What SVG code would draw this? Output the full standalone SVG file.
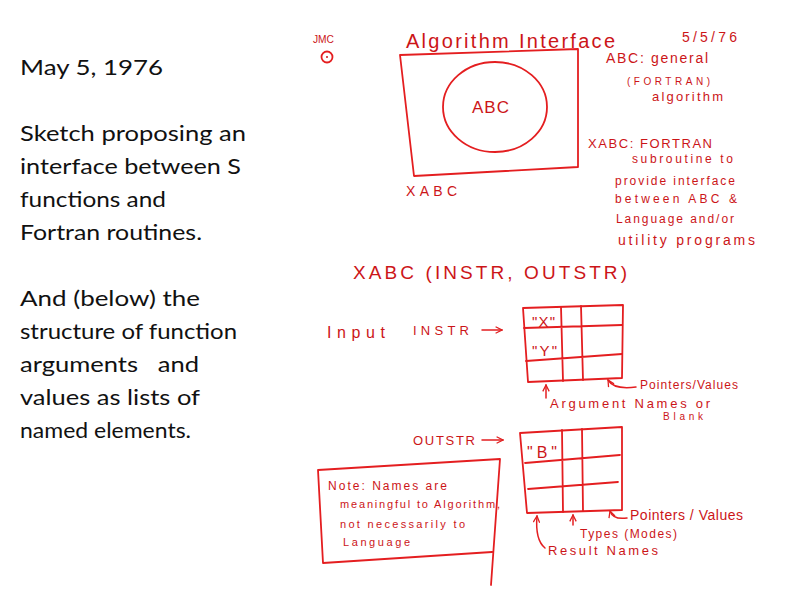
<svg xmlns="http://www.w3.org/2000/svg" width="804" height="595" viewBox="0 0 804 595">
  <defs>
    <marker id="chev" viewBox="0 0 10 10" refX="9" refY="5" markerWidth="8" markerHeight="8" orient="auto" markerUnits="userSpaceOnUse">
      <path d="M1,1 L9,5 L1,9" fill="none" stroke="#e01f1f" stroke-width="1.6"/>
    </marker>
  </defs>
  <style>
    .cap { font-family: Lato, "Liberation Sans", sans-serif; font-size: 22px; fill: #111; }
    .ink { font-family: "Liberation Sans", Arial, sans-serif; fill: #cc1518; }
    .line { fill: none; stroke: #e41e20; stroke-width: 1.8; stroke-linecap: round; stroke-linejoin: round; }
    .conn { fill: none; stroke: #e41e20; stroke-width: 1.5; stroke-linecap: round; }
  </style>
  <rect width="804" height="595" fill="#ffffff"/>

  <!-- caption column -->
  <g id="caption">
    <text class="cap" x="20" y="75" textLength="143" lengthAdjust="spacingAndGlyphs">May 5, 1976</text>
    <text class="cap" x="20" y="141" textLength="226" lengthAdjust="spacingAndGlyphs">Sketch proposing an</text>
    <text class="cap" x="20" y="174" textLength="221" lengthAdjust="spacingAndGlyphs">interface between S</text>
    <text class="cap" x="20" y="207" textLength="146" lengthAdjust="spacingAndGlyphs">functions and</text>
    <text class="cap" x="20" y="240" textLength="182" lengthAdjust="spacingAndGlyphs">Fortran routines.</text>
    <text class="cap" x="20" y="306" textLength="180" lengthAdjust="spacingAndGlyphs">And (below) the</text>
    <text class="cap" x="20" y="339" textLength="217" lengthAdjust="spacingAndGlyphs">structure of function</text>
    <text class="cap" x="20" y="372" textLength="179" lengthAdjust="spacingAndGlyphs" xml:space="preserve">arguments   and</text>
    <text class="cap" x="20" y="405" textLength="180" lengthAdjust="spacingAndGlyphs">values as lists of</text>
    <text class="cap" x="20" y="438" textLength="171" lengthAdjust="spacingAndGlyphs">named elements.</text>
  </g>

  <!-- header: initials, title, date -->
  <g id="header">
    <text class="ink" x="313" y="43" font-size="10" textLength="21" lengthAdjust="spacingAndGlyphs">JMC</text>
    <circle class="line" cx="327" cy="57" r="5.5" stroke-width="1.4"/>
    <circle cx="327" cy="57" r="1" fill="#cc1518"/>
    <text class="ink" x="406" y="48" font-size="20" textLength="209" lengthAdjust="spacing">Algorithm Interface</text>
    <text class="ink" x="682" y="42" font-size="14" textLength="55" lengthAdjust="spacing">5/5/76</text>
  </g>

  <!-- XABC wrapper box around ABC -->
  <g id="xabc-box">
    <path class="line" d="M400,55 L578,49 L578,167 L414,176 Z"/>
    <text class="ink" x="406" y="196" font-size="14" textLength="51" lengthAdjust="spacing">XABC</text>
  </g>
  <g id="abc">
    <ellipse class="line" cx="495" cy="107" rx="52" ry="45"/>
    <text class="ink" x="472" y="113" font-size="17" textLength="37" lengthAdjust="spacing">ABC</text>
  </g>

  <!-- definitions -->
  <g id="defs-text">
    <text class="ink" x="606" y="63" font-size="14" textLength="102" lengthAdjust="spacing">ABC: general</text>
    <text class="ink" x="627" y="85" font-size="10" textLength="83" lengthAdjust="spacing">(FORTRAN)</text>
    <text class="ink" x="652" y="101" font-size="13" textLength="71" lengthAdjust="spacing">algorithm</text>
    <text class="ink" x="588" y="148" font-size="13" textLength="124" lengthAdjust="spacing">XABC:  FORTRAN</text>
    <text class="ink" x="632" y="163" font-size="12" textLength="101" lengthAdjust="spacing">subroutine to</text>
    <text class="ink" x="615" y="185" font-size="12" textLength="120" lengthAdjust="spacing">provide interface</text>
    <text class="ink" x="615" y="203" font-size="12" textLength="122" lengthAdjust="spacing">between ABC &amp;</text>
    <text class="ink" x="616" y="223" font-size="12" textLength="118" lengthAdjust="spacing">Language and/or</text>
    <text class="ink" x="618" y="245" font-size="14" textLength="137" lengthAdjust="spacing">utility programs</text>
  </g>

  <!-- call signature -->
  <g id="signature">
    <text class="ink" x="353" y="279" font-size="19" textLength="274" lengthAdjust="spacing">XABC (INSTR, OUTSTR)</text>
  </g>

  <!-- INSTR list -->
  <g id="instr">
    <text class="ink" x="327" y="338" font-size="16" textLength="58" lengthAdjust="spacing">Input</text>
    <text class="ink" x="413" y="335" font-size="13" textLength="56" lengthAdjust="spacing">INSTR</text>
    <path class="line" d="M523,308 L623,305 L622,378 L528,382 Z"/>
    <path class="line" d="M561,307 L563,381 M581,306 L583,380 M524,328 L622,325 M526,361 L622,354"/>
    <text class="ink" x="532" y="327" font-size="15" textLength="23" lengthAdjust="spacing">"X"</text>
    <text class="ink" x="532" y="356" font-size="15" textLength="25" lengthAdjust="spacing">"Y"</text>
    <text class="ink" x="550" y="408" font-size="13" textLength="160" lengthAdjust="spacing">Argument Names or</text>
    <text class="ink" x="663" y="420" font-size="10" textLength="40" lengthAdjust="spacing">Blank</text>
    <text class="ink" x="640" y="389" font-size="12" textLength="98" lengthAdjust="spacing">Pointers/Values</text>
  </g>

  <!-- OUTSTR list -->
  <g id="outstr">
    <text class="ink" x="413" y="445" font-size="13" textLength="62" lengthAdjust="spacing">OUTSTR</text>
    <path class="line" d="M520,433 L622,427 L622,510 L527,513 Z"/>
    <path class="line" d="M562,430 L563,512 M582,429 L583,511 M525,463 L620,455 M528,489 L618,482"/>
    <text class="ink" x="527" y="458" font-size="16" textLength="30" lengthAdjust="spacing">"B"</text>
    <text class="ink" x="548" y="555" font-size="13" textLength="110" lengthAdjust="spacing">Result Names</text>
    <text class="ink" x="580" y="538" font-size="12" textLength="97" lengthAdjust="spacing">Types (Modes)</text>
    <text class="ink" x="630" y="520" font-size="14" textLength="113" lengthAdjust="spacing">Pointers / Values</text>
  </g>

  <!-- note box -->
  <g id="note">
    <path class="line" d="M318,470 L500,459 L491,585 M323,563 L318,470 M323,563 L492,552" stroke-width="1.5"/>
    <text class="ink" x="328" y="490" font-size="12" textLength="119" lengthAdjust="spacing">Note: Names are</text>
    <text class="ink" x="340" y="508" font-size="11" textLength="160" lengthAdjust="spacing">meaningful to Algorithm,</text>
    <text class="ink" x="340" y="528" font-size="11" textLength="125" lengthAdjust="spacing">not necessarily to</text>
    <text class="ink" x="343" y="546" font-size="11" textLength="67" lengthAdjust="spacing">Language</text>
  </g>

  <!-- connectors -->
  <g id="connectors">
    <path class="conn" d="M482,330 L502,330" marker-end="url(#chev)"/>
    <path class="conn" d="M482,440 L503,440" marker-end="url(#chev)"/>
    <path class="conn" d="M546,398 L546,385" marker-end="url(#chev)"/>
    <path class="conn" d="M636,387 Q614,390 608,380" marker-end="url(#chev)"/>
    <path class="conn" d="M545,548 Q535,540 537,516" marker-end="url(#chev)"/>
    <path class="conn" d="M573,525 L573,515" marker-end="url(#chev)"/>
    <path class="conn" d="M627,518 Q613,520 610,511" marker-end="url(#chev)"/>
  </g>
</svg>
